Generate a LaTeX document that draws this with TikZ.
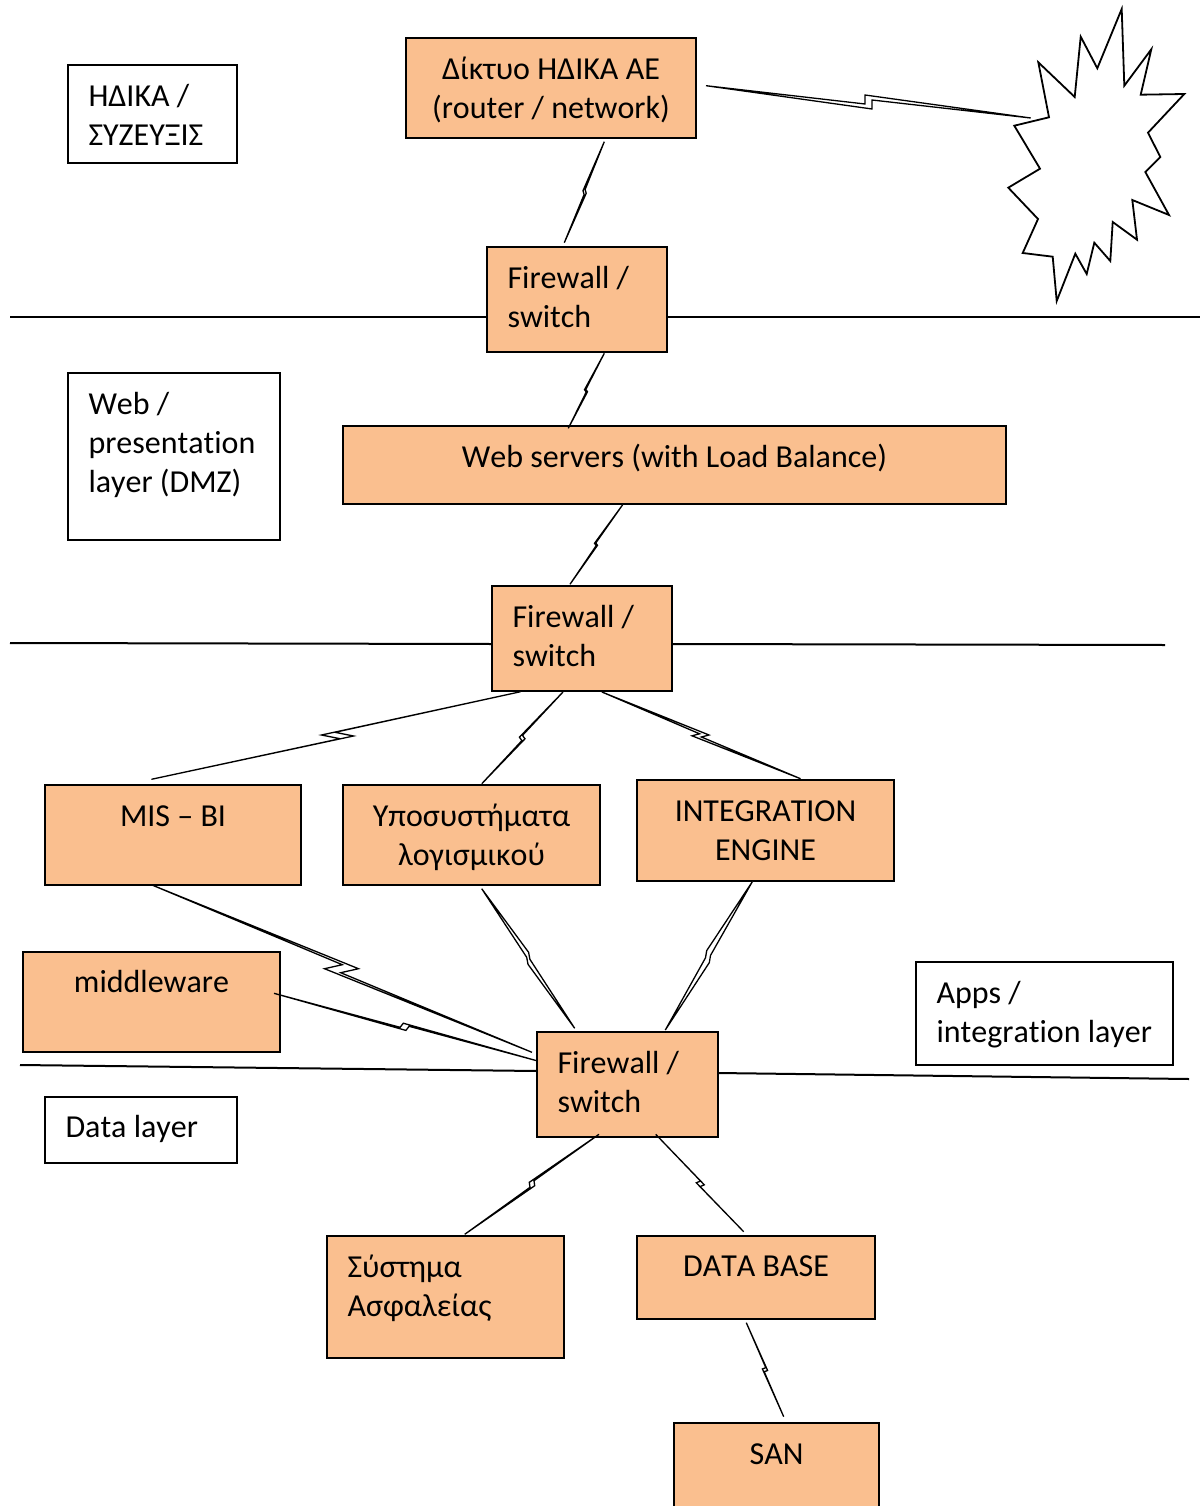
\documentclass[tikz,border=0pt]{standalone}
\usepackage{fontspec}
\setmainfont[Kerning=Off,Ligatures=NoCommon]{Carlito}
\usetikzlibrary{calc}
\definecolor{boxfill}{HTML}{FABF8F}
\tikzset{
  x=1pt,y=-1pt,
  boxbase/.style={draw=black,line width=2pt,inner ysep=0pt,outer sep=0pt,anchor=north west,font=\fontsize{32}{39}\selectfont},
  orange/.style={boxbase,fill=boxfill},
  plain/.style={boxbase,fill=white},
  boltline/.style={draw=black,fill=white,line width=1.3pt,line join=miter},
  sepline/.style={draw=black,line width=2pt},
  burst/.style={draw=black,fill=white,line width=1.8pt,line join=miter}
}
% style, name, x0, y0, w, h, inset, text
\newcommand{\boxn}[8]{%
  \pgfmathsetmacro{\pw}{#5-2*#7}%
  \node[#1,inner xsep=#7pt] (#2) at (#3,#4) {\parbox[c][#6pt][t]{\pw pt}{\baselineskip=39pt #8}};}
\newcommand{\fl}[1][41.7]{\rule{0pt}{#1pt}}
% start, end, middle, offset a, offset b
\newcommand{\bolt}[5]{\draw[boltline] (#1) -- ($(#3)+(#4)$) -- ($(#3)+(#5)$) -- (#2) -- ($(#3)-(#4)$) -- ($(#3)-(#5)$) -- cycle;}
\begin{document}
\begin{tikzpicture}
\useasboundingbox (0,0) rectangle (1200,1506);
\fill[white] (0,0) rectangle (1200,1506);
% boxes
\boxn{orange}{net}{406}{38}{290}{100}{10}{\centering\fl Δίκτυο ΗΔΙΚΑ ΑΕ\\(router / network)}
\boxn{orange}{fwa}{487}{247}{180}{105}{20.5}{\raggedright\fl Firewall /\\switch}
\boxn{orange}{web}{343}{426}{663}{78}{10}{\centering\fl Web servers (with Load Balance)}
\boxn{orange}{fwb}{492}{586}{180}{105}{20.5}{\raggedright\fl Firewall /\\switch}
\boxn{orange}{mis}{45}{785}{256}{100}{10}{\centering\fl[41]MIS – BI}
\boxn{orange}{sub}{343}{785}{257}{100}{10}{\centering\fl Υποσυστήματα\\λογισμικού}
\boxn{orange}{int}{637}{780}{257}{101}{10}{\centering\fl[41]INTEGRATION\\ENGINE}
\boxn{orange}{mid}{23}{952}{257}{100}{10}{\centering\fl[40]middleware}
\boxn{orange}{fwc}{537}{1032}{181}{105}{20.5}{\raggedright\fl Firewall /\\switch}
\boxn{orange}{sec}{327}{1236}{237}{122}{20.5}{\raggedright\fl Σύστημα\\Ασφαλείας}
\boxn{orange}{db}{637}{1236}{238}{83}{10}{\centering\fl[40]DATA BASE}
\boxn{orange}{san}{674}{1423}{205}{110}{10}{\centering\fl[41]SAN}
\boxn{plain}{lbla}{68}{65}{169}{98}{20.5}{\raggedright\fl ΗΔΙΚΑ /\\ΣΥΖΕΥΞΙΣ}
\boxn{plain}{lblb}{68}{373}{212}{167}{20.5}{\raggedright\fl[41]Web /\\presentation\\layer (DMZ)}
\boxn{plain}{lblc}{916}{962}{257}{103}{20.5}{\raggedright\fl[41]Apps /\\integration layer}
\boxn{plain}{lbld}{45}{1097}{192}{66}{20.5}{\raggedright\fl[40]Data layer}
% separators
\coordinate (sa) at (10,317);
\coordinate (sb) at (1200,317);
\coordinate (sc) at (10,643);
\coordinate (sd) at (1165,645);
\coordinate (se) at (20,1065);
\coordinate (sf) at (1189,1079);
\draw[sepline] (sa) -- (sa -| fwa.west);
\draw[sepline] (sb -| fwa.east) -- (sb);
\draw[sepline] (sc) -- ($(fwb.north west)+(0,58)$);
\draw[sepline] ($(fwb.north east)+(0,58)$) -- (sd);
\draw[sepline] (se) -- ($(fwc.north west)+(0,39)$);
\draw[sepline] ($(fwc.north east)+(0,41)$) -- (sf);
% burst
\coordinate (cloud) at (1096,155);
\draw[burst] (1121.7,9) -- (1124.3,85.7) -- (1151.3,49.3) -- (1140.7,94.7) -- (1184.3,94) -- (1148,132.7) -- (1160.3,157) -- (1145.3,172) -- (1169,215) -- (1132.3,200) -- (1137,239.7) -- (1112.7,222) -- (1110.3,261) -- (1094.3,242.7) -- (1086.7,274) -- (1075.3,253.7) -- (1056.7,301) -- (1052.7,256.7) -- (1022.7,253) -- (1038,219) -- (1008.3,187.7) -- (1040,168.7) -- (1014.3,125.7) -- (1049,117.3) -- (1038.3,62.3) -- (1074.7,97) -- (1080.7,36.7) -- (1097.3,68.3) -- cycle;
% bolts
\bolt{$(net.north east)+(10,47.7)$}{$(cloud)+(-65.3,-37)$}{868.5,102}{-3.5,2}{-3.5,-7}
\bolt{$(net.south west)+(198.3,3.7)$}{$(fwa.north west)+(77.3,-4.3)$}{584.6,192}{-1.6,-1.3}{-0.5,2.5}
\bolt{$(fwa.south west)+(117.3,1.3)$}{$(web.north west)+(225.3,2.3)$}{586,390.7}{-1.5,-1}{0.2,1.3}
\bolt{$(web.south west)+(279.7,0.7)$}{$(fwb.north west)+(78,-1.7)$}{596,544.3}{-1.5,-1}{0.2,1.3}
\bolt{$(fwb.south west)+(28.6,0.7)$}{$(mis.north west)+(106.4,-5.7)$}{337.5,735.5}{-16,-0.5}{2.5,3.2}
\bolt{$(fwb.south west)+(71,1)$}{$(sub.north west)+(138.8,-1.3)$}{522.2,738}{-2.8,-0.8}{-0.3,2.6}
\bolt{$(fwb.south west)+(109.9,1)$}{$(int.north west)+(163.5,-1.3)$}{700.5,735.4}{8.5,-0.4}{0.9,1.6}
\bolt{$(mis.south west)+(107,0)$}{$(fwc.north west)+(-5,20.3)$}{341.5,968.7}{17,0}{-0.8,4}
\bolt{$(mid.north east)+(-6,41.3)$}{$(fwc.north west)+(-0.3,28.7)$}{404.6,1026.8}{-4.5,0.5}{-1.3,-3.6}
\bolt{$(sub.south west)+(138.7,3.7)$}{$(fwc.north west)+(37.7,-3.7)$}{528.3,958.3}{0.3,-6}{1.6,1}
\bolt{$(int.south west)+(115.3,0.7)$}{$(fwc.north west)+(128.3,-2)$}{708,956.6}{-1.3,-6}{-2.5,1.2}
\bolt{$(fwc.south west)+(62,-2.7)$}{$(sec.north west)+(137.7,-1.7)$}{532,1184}{-2.7,-1.7}{-2,3.3}
\bolt{$(fwc.south west)+(118.7,-2.7)$}{$(db.north west)+(106.7,-4.3)$}{700.3,1183.8}{4,1}{-0.2,2.8}
\bolt{$(db.south west)+(109.3,3.7)$}{$(san.north west)+(109.7,-6.3)$}{765,1369.7}{2.6,0.8}{-0.8,2}
\end{tikzpicture}
\end{document}
